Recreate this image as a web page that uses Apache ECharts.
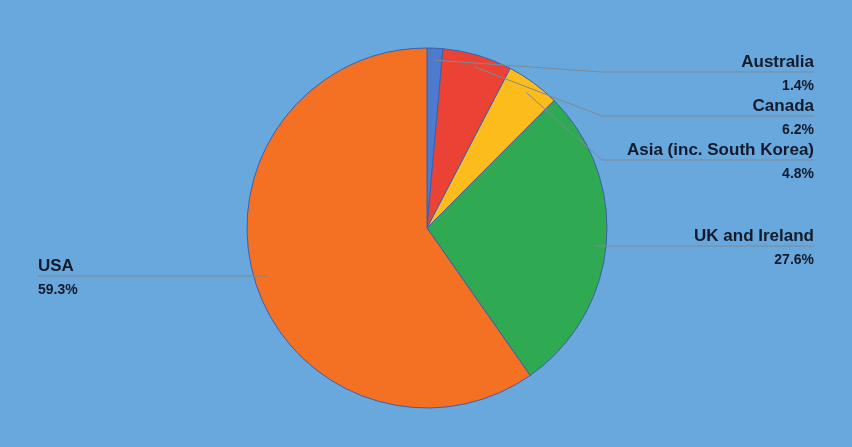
<!DOCTYPE html>
<html><head><meta charset="utf-8">
<script src="https://cdn.jsdelivr.net/npm/echarts@6/dist/echarts.min.js"></script>
<style>html,body{margin:0;padding:0;background:#69a8dc;}#c{width:852px;height:447px;}</style>
</head><body><div id="c"></div>
<script>
var categories = ['Australia', 'Canada', 'Asia (inc. South Korea)', 'UK and Ireland', 'USA'];
var values = [1.4, 6.2, 4.8, 27.6, 59.3];
var colors = ['#4c7bcf', '#ea4335', '#fcbc1c', '#2fa952', '#f47022'];

// layout settings (not data)
var CX = 427, CY = 228, R = 180;
var labelLineY = [72, 116, 160, 246, 276];

var chart = echarts.init(document.getElementById('c'));
chart.setOption({
  backgroundColor: '#69a8dc',
  animation: false,
  series: [{
    type: 'pie',
    z: 2,
    center: [CX, CY],
    radius: R,
    startAngle: 90,
    clockwise: true,
    silent: true,
    data: categories.map(function (n, i) { return { name: n, value: values[i], itemStyle: { color: colors[i] } }; }),
    itemStyle: { borderColor: '#3d5fae', borderWidth: 1 },
    label: { show: false },
    labelLine: { show: false }
  }, {
    type: 'pie',
    z: 5,
    center: [CX, CY],
    radius: R,
    startAngle: 90,
    clockwise: true,
    silent: true,
    data: categories.map(function (n, i) { return { name: n, value: values[i] }; }),
    itemStyle: { color: 'rgba(0,0,0,0)', borderWidth: 0 },
    label: {
      alignTo: 'edge',
      edgeDistance: 38,
      formatter: '{n|{b}}\n{p|{c}%}',
      rich: {
        n: { fontFamily: 'Liberation Sans, Arial', fontWeight: 'bold', fontSize: 17, color: '#121a2c', lineHeight: 28 },
        p: { fontFamily: 'Liberation Sans, Arial', fontWeight: 'bold', fontSize: 14, color: '#121a2c', lineHeight: 20 }
      }
    },
    labelLine: { show: true, length: 15, length2: 20, lineStyle: { color: '#7d8a97', width: 1 } },
    labelLayout: function (p) {
      var pts = p.labelLinePoints;
      if (!pts) return {};
      var i = p.dataIndex;
      var r = p.labelRect;
      var isRight = pts[2][0] > pts[0][0];
      var ex = pts[0][0], ey = pts[0][1];
      var vx = ex - CX, vy = ey - CY;
      var vl = Math.sqrt(vx * vx + vy * vy) || 1;
      var start = [ex - vx / vl * 12, ey - vy / vl * 12];
      var ly = labelLineY[i];
      var bendX = isRight ? CX + R - 5 : CX - R + 5;
      var endX = isRight ? r.x + r.width : r.x;
      if (Math.abs(start[1] - ly) < 10) start[1] = ly;
      return {
        y: ly,
        labelLinePoints: [start, [bendX, ly], [endX, ly]]
      };
    }
  }]
});
</script></body></html>
